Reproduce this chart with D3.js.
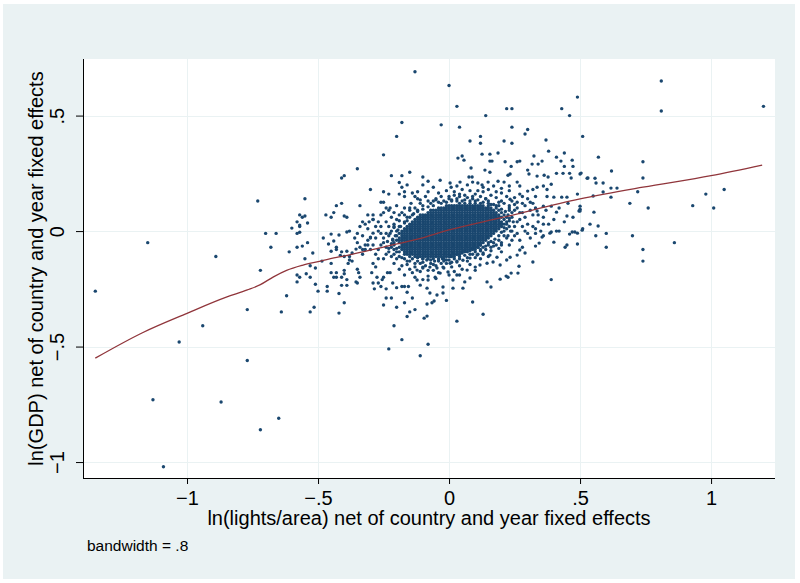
<!DOCTYPE html>
<html>
<head>
<meta charset="utf-8">
<script src="https://cdn.jsdelivr.net/npm/d3@7"></script>
<style>
  html, body { margin: 0; padding: 0; background: #ffffff; }
  svg { display: block; }
  text { font-family: "Liberation Sans", Arial, Helvetica, sans-serif; fill: #000; }
</style>
</head>
<body>
<svg id="chart" width="800" height="583"></svg>
<script>
// ---------------- DATA ----------------
const xTicks = [-1, -0.5, 0, 0.5, 1];
const xTickLabels = ["\u22121", "\u2212.5", "0", ".5", "1"];
const yTicks = [-1, -0.5, 0, 0.5];
const yTickLabels = ["\u22121", "\u2212.5", "0", ".5"];
const xTitle = "ln(lights/area) net of country and year fixed effects";
const yTitle = "ln(GDP) net of country and year fixed effects";
const noteText = "bandwidth = .8";

// isolated observations far from the cloud
const outlierPts = [
  [-1.35,-0.26],[-1.15,-0.05],[-0.89,-0.11],[-1.03,-0.48],[-0.94,-0.41],[-1.13,-0.73],[-0.87,-0.74],[-1.09,-1.02],
  [-0.73,0.13],[-0.72,-0.17],[-0.77,-0.34],[-0.77,-0.56],[-0.65,-0.81],[-0.72,-0.86],[-0.70,-0.01],[-0.66,-0.01],
  [-0.68,-0.07],[-0.64,-0.35],[-0.62,-0.28],
  [-0.13,0.69],[-0.18,0.47],[-0.20,0.41],[-0.25,0.33],[-0.35,0.27],[-0.40,0.24],[-0.41,0.23],[0.00,0.63],[0.03,0.54],
  [0.22,0.53],[0.24,0.53],[0.14,0.50],[-0.03,0.46],[0.04,0.45],[0.43,0.53],[0.49,0.58],[0.46,0.50],[0.51,0.41],
  [0.24,0.45],[0.30,0.44],[0.29,0.42],[0.08,0.39],[0.12,0.41],[0.12,0.38],[0.21,0.39],[0.24,0.38],
  [0.81,0.65],[0.81,0.52],[1.20,0.54],[0.57,0.32],[0.74,0.30],[0.62,0.26],[0.74,0.23],[0.72,0.17],[0.69,0.12],
  [0.76,0.10],[0.93,0.11],[0.98,0.16],[1.01,0.10],[1.05,0.18],[0.86,-0.05],[0.74,-0.08],[0.74,-0.13],[0.70,-0.02],
  [0.60,-0.07],[0.60,-0.01],[0.56,-0.02],
  [-0.11,-0.54],[-0.08,-0.49],[0.03,-0.39],[0.13,-0.36],[0.39,-0.21],[-0.21,-0.41],[-0.18,-0.47],[-0.23,-0.51]
];

// sparse halo around the cloud
const haloPts = [
  [-0.55,0.14],[-0.57,0.07],[-0.55,0.065],[-0.56,0.06],[-0.58,0.04],[-0.54,0.035],[-0.60,0.013],[-0.57,0.02],[-0.57,-0.005],
  [-0.48,-0.03],[-0.45,-0.013],[-0.47,0.07],[-0.45,0.06],[-0.43,0.11],[-0.41,0.12],[-0.44,0.08],[-0.40,0.065],[-0.39,0.06],
  [-0.34,0.11],[-0.30,0.18],[-0.25,0.17],[-0.23,0.16],[-0.22,0.24],[-0.18,0.24],[-0.15,0.255],[-0.16,0.20],
  [-0.19,0.21],[-0.18,0.19],[-0.17,0.17],[-0.19,0.16],[-0.17,0.15],[-0.26,0.125],[-0.25,0.125],[-0.24,0.10],[-0.225,0.10],
  [-0.31,0.07],[-0.29,0.07],[-0.33,0.04],[-0.305,0.04],[-0.29,0.05],[-0.27,0.04],[-0.38,0.0],[-0.39,-0.004],[-0.42,-0.017],
  [-0.12,0.17],[-0.12,0.14],[-0.13,0.10],[-0.145,0.12],
  [-0.57,0.026],[-0.58,-0.01],[-0.58,-0.07],[-0.61,-0.09],[-0.56,-0.065],[-0.54,-0.05],[-0.52,-0.095],[-0.55,-0.12],
  [-0.53,-0.15],[-0.58,-0.19],[-0.57,-0.20],[-0.545,-0.185],[-0.53,-0.20],[-0.58,-0.22],[-0.51,-0.23],[-0.50,-0.26],
  [-0.53,-0.35],[-0.515,-0.33],[-0.51,-0.16],[-0.465,-0.24],[-0.465,-0.26],[-0.45,-0.14],[-0.44,-0.20],[-0.42,-0.355],
  [-0.46,-0.056],[-0.44,-0.043],[-0.43,-0.07],[-0.45,-0.087],[-0.485,-0.13],
  [-0.45,-0.18],[-0.43,-0.18],[-0.43,-0.20],[-0.41,-0.20],[-0.40,-0.17],[-0.40,-0.185],[-0.39,-0.21],[-0.41,-0.235],
  [-0.39,-0.235],[-0.42,-0.27],[-0.40,-0.31],
  [-0.38,-0.125],[-0.385,-0.14],[-0.37,-0.13],[-0.35,-0.165],[-0.345,-0.18],[-0.355,-0.22],[-0.35,-0.225],[-0.34,-0.20],
  [-0.415,-0.105],[-0.40,-0.11],[-0.38,-0.11],[-0.43,-0.08],[-0.41,-0.09],[-0.39,-0.087],[-0.37,-0.095],[-0.355,-0.078],
  [-0.34,-0.07],[-0.32,-0.08],[-0.31,-0.04],[-0.30,-0.026],[-0.29,-0.009],[-0.31,-0.06],[-0.33,-0.10],
  [-0.29,-0.14],[-0.28,-0.155],[-0.295,-0.18],[-0.275,-0.20],[-0.29,-0.225],[-0.285,-0.25],[-0.27,-0.225],[-0.255,-0.21],
  [-0.25,-0.20],[-0.235,-0.18],[-0.225,-0.18],[-0.215,-0.225],[-0.20,-0.245],[-0.18,-0.24],[-0.17,-0.24],[-0.155,-0.24],
  [-0.16,-0.265],[-0.14,-0.29],[-0.13,-0.34],[-0.17,-0.31],[-0.16,-0.37],[-0.15,-0.35],[-0.20,-0.33],[-0.22,-0.29],
  [-0.24,-0.29],[-0.25,-0.32],[-0.24,-0.25],[-0.26,-0.24],
  [0.034,0.316],[0.05,0.325],[0.057,0.307],[0.126,0.333],[0.156,0.303],[0.164,0.303],[0.187,0.338],[0.156,0.333],
  [0.214,0.30],[0.237,0.28],[0.26,0.30],[0.27,0.303],[0.084,0.273],[0.137,0.264],[0.156,0.255],[0.225,0.242],[0.233,0.247],
  [0.324,0.325],[0.355,0.303],[0.34,0.29],[0.317,0.29],[0.37,0.394],[0.38,0.346],[0.44,0.338],[0.41,0.32],
  [0.427,0.303],[0.47,0.307],[0.473,0.28],[0.44,0.28],
  [0.30,0.264],[0.305,0.247],[0.336,0.238],[0.363,0.242],[0.378,0.234],[0.41,0.25],[0.435,0.25],[0.46,0.25],[0.466,0.23],
  [0.50,0.247],[0.53,0.23],
  [-0.10,0.234],[-0.08,0.216],[-0.034,0.22],[0.004,0.208],[0.008,0.19],[0.042,0.212],[0.076,0.234],[0.088,0.234],
  [0.09,0.212],[0.11,0.208],[0.126,0.20],[0.149,0.212],[0.17,0.195],[0.187,0.216],[0.21,0.212],[0.23,0.195],[0.26,0.212],[0.27,0.195],
  [0.30,0.173],[0.32,0.18],[0.336,0.19],[0.36,0.195],[0.374,0.18],[0.39,0.203],[0.374,0.15],[0.40,0.147],[0.39,0.108],
  [0.43,0.147],[0.45,0.147],[0.454,0.12],[0.49,0.16],[0.50,0.108],[0.496,0.087],[0.473,0.06],[0.45,0.065],[0.41,0.082],
  [0.36,0.108],[0.336,0.087],[0.31,0.125],[0.28,0.15],[0.26,0.125],[0.233,0.138],
  [0.51,0.01],[0.48,-0.004],[0.46,-0.013],[0.42,0.0],[0.39,-0.004],[0.36,-0.02],[0.33,0.01],
  [0.504,0.251],[0.527,0.229],[0.557,0.229],[0.561,0.208],[0.588,0.208],[0.618,0.186],[0.641,0.186],[0.588,0.169],
  [0.55,0.152],[0.618,0.147],[0.50,0.095],[0.50,0.087],[0.553,0.082],[0.538,0.03],[0.569,0.022],[0.508,0.004],
  [0.09,-0.307],[-0.01,-0.30],[-0.057,-0.303],[-0.065,-0.31],[-0.084,-0.316],[-0.095,-0.377],[-0.084,-0.368],
  [0.16,-0.242],[0.145,-0.22],[0.195,-0.208],[0.218,-0.195],[0.225,-0.20],[0.237,-0.182],[0.263,-0.182],[0.267,-0.152],
  [0.32,-0.134],[0.29,-0.095],[0.27,-0.082],[0.28,-0.07],[0.33,-0.065],[0.344,-0.052],[0.355,-0.026],[0.40,-0.048],
  [0.443,-0.07],[0.45,-0.06],[0.49,-0.056],[0.47,-0.004],[0.49,-0.009],[0.385,-0.009],
  [-0.023,-0.268],[0.015,-0.247],[0.053,-0.247],[0.06,-0.22],[0.08,-0.203],[0.015,-0.212],[-0.023,-0.242],[-0.046,-0.277],
  [-0.073,-0.268],[-0.084,-0.247],[-0.11,-0.234],[-0.122,-0.212],[-0.08,-0.212],[-0.053,-0.20],[-0.034,-0.182],[-0.004,-0.177],
  [0.03,-0.19],[0.069,-0.169],[0.10,-0.156],[0.118,-0.147],[0.145,-0.139],[0.168,-0.134],[0.195,-0.147],[0.22,-0.125],
  [0.233,-0.113],[0.26,-0.104],[0.183,-0.113],[0.156,-0.104],[0.13,-0.095],[0.107,-0.104],[0.08,-0.117],[0.053,-0.126],
  [0.03,-0.134],[0.004,-0.139],[-0.023,-0.156],[-0.046,-0.16],[-0.073,-0.156],[-0.10,-0.156],[-0.122,-0.169]
];

// medium-density ring outside the solid core
const ringPts = [
  [-0.08,0.13],[-0.05,0.14],[-0.02,0.13],[0.0,0.15],[0.03,0.14],[0.06,0.155],[0.09,0.14],[0.12,0.15],[0.15,0.13],
  [0.18,0.145],[0.21,0.12],[0.23,0.10],[-0.10,0.11],[-0.12,0.09],[0.02,0.17],[0.08,0.175],[0.13,0.17],[-0.04,0.165],
  [0.20,0.165],[0.25,0.115],[0.24,0.08],[0.22,0.06],[-0.14,0.07],[-0.16,0.06],[-0.07,0.12],
  [-0.18,0.08],[-0.20,0.05],[-0.21,0.03],[-0.22,0.0],[-0.23,-0.02],[-0.21,-0.05],[-0.22,-0.07],[-0.20,-0.09],[-0.19,-0.11],
  [-0.24,0.04],[-0.26,-0.01],[-0.25,-0.05],[-0.27,-0.08],[-0.24,-0.10],[-0.28,0.02],[-0.30,-0.03],[-0.26,0.07],[-0.20,0.11],
  [-0.23,0.09],[-0.29,-0.06],[-0.31,0.01],[-0.33,-0.02],[-0.32,-0.06],[-0.35,-0.05],[-0.34,0.02],[-0.27,-0.12],
  [-0.16,-0.13],[-0.13,-0.14],[-0.10,-0.135],[-0.07,-0.14],[-0.04,-0.13],[-0.01,-0.125],[0.02,-0.11],[0.05,-0.095],
  [0.08,-0.085],[0.11,-0.07],[0.14,-0.065],[0.17,-0.05],[-0.15,-0.165],[-0.11,-0.175],[-0.06,-0.17],[-0.02,-0.16],
  [0.04,-0.15],[0.07,-0.13],[0.10,-0.115],[0.13,-0.10],[0.16,-0.085],[0.19,-0.075],[-0.18,-0.15],[-0.21,-0.14],
  [-0.13,-0.20],[-0.08,-0.195],[0.0,-0.19],[0.02,-0.175],
  [0.20,0.03],[0.22,0.01],[0.21,-0.02],[0.19,-0.04],[0.23,0.045],[0.25,0.02],[0.26,-0.01],[0.24,-0.04],[0.27,0.05],
  [0.28,0.08],[0.30,0.03],[0.29,0.0],[0.31,-0.03],[0.23,-0.06],[0.26,0.10],[0.29,0.11],[0.32,0.07],[0.34,0.04],
  [0.33,0.10],[0.36,0.06],[0.35,0.0],[0.38,0.03],[0.40,0.05],[0.37,0.09],[0.42,0.10],[0.44,0.04],[0.41,0.0],
  [0.30,0.14],[0.27,0.16],[0.33,0.15]
];

// second, denser band around the core
const ring2Pts = [
  [-0.04,0.125],[0.15,0.12],[0.17,0.115],[0.19,0.11],
  [-0.11,0.135],[-0.06,0.13],[0.01,0.135],[0.05,0.13],[0.11,0.135],[0.14,0.14],[0.20,0.13],[0.24,0.13],
  [-0.13,0.15],[-0.09,0.15],[-0.03,0.15],[0.02,0.155],[0.04,0.16],[0.07,0.145],[0.10,0.16],[0.16,0.155],[0.22,0.15],[0.25,0.145],
  [-0.14,0.165],[-0.08,0.17],[-0.01,0.175],[0.05,0.18],[0.11,0.175],[0.15,0.18],[0.18,0.17],[0.23,0.175],
  [-0.06,0.19],[0.03,0.195],[0.07,0.20],[0.13,0.19],[0.20,0.185],[-0.10,0.20],
  [-0.17,0.10],[-0.15,0.09],[-0.19,0.07],[-0.17,0.04],[-0.19,0.02],[-0.20,0.0],[-0.21,0.015],[-0.20,-0.02],[-0.215,-0.035],
  [-0.22,-0.055],[-0.21,-0.08],[-0.23,-0.09],[-0.20,-0.12],[-0.22,-0.11],[-0.24,-0.07],[-0.25,-0.03],[-0.23,0.02],
  [-0.24,-0.01],[-0.26,0.02],[-0.27,0.0],[-0.28,-0.03],[-0.26,-0.06],[-0.30,-0.08],[-0.28,-0.10],[-0.25,-0.12],
  [-0.29,0.05],[-0.32,0.03],[-0.35,-0.01],[-0.33,-0.08],[-0.36,-0.03],[-0.22,0.06],[-0.21,0.08],[-0.25,0.08],
  [-0.17,-0.12],[-0.14,-0.12],[-0.12,-0.13],[-0.085,-0.125],[-0.055,-0.13],[-0.025,-0.12],[0.005,-0.11],[0.03,-0.10],
  [0.06,-0.085],[0.09,-0.075],[0.12,-0.06],[0.15,-0.05],[0.16,-0.07],
  [-0.16,-0.145],[-0.13,-0.155],[-0.09,-0.15],[-0.05,-0.15],[-0.03,-0.14],[0.01,-0.135],[0.04,-0.12],[0.09,-0.10],
  [0.12,-0.085],[0.18,-0.06],
  [-0.19,-0.165],[-0.14,-0.18],[-0.10,-0.16],[-0.08,-0.17],[-0.04,-0.18],[0.01,-0.155],[0.05,-0.165],[0.08,-0.145],
  [0.12,-0.12],[0.15,-0.11],[0.20,-0.09],
  [-0.17,-0.19],[-0.10,-0.21],[-0.05,-0.205],[0.04,-0.19],[0.10,-0.17],
  [0.21,0.07],[0.22,0.04],[0.21,0.0],[0.20,-0.06],[0.225,-0.02],[0.24,0.06],[0.23,0.02],[0.25,-0.02],[0.24,0.0],
  [0.26,0.04],[0.27,0.08],[0.25,0.09],[0.28,0.02],[0.27,-0.04],[0.29,0.06],[0.30,-0.01],[0.32,0.02],[0.31,0.09],
  [0.34,0.07],[0.33,-0.01],[0.36,0.03],[0.23,0.11],[0.28,0.12],[0.32,0.12]
];

// observations right at the edge of the solid core
const edgePts = [
  [-0.12,0.085],[-0.10,0.095],[-0.08,0.105],[-0.06,0.11],[-0.03,0.12],[-0.01,0.125],[0.01,0.13],[0.03,0.13],[0.06,0.135],
  [0.08,0.13],[0.10,0.13],[0.13,0.125],[0.16,0.115],[0.18,0.11],[0.20,0.095],[0.215,0.085],[0.225,0.07],[0.23,0.055],
  [0.22,0.03],[0.21,0.015],[0.20,-0.005],[0.19,-0.02],[0.175,-0.035],[0.16,-0.045],[0.15,-0.06],[0.13,-0.07],[0.12,-0.08],
  [0.10,-0.09],[0.08,-0.10],[0.06,-0.105],[0.04,-0.11],[0.02,-0.12],[0.0,-0.125],[-0.02,-0.13],[-0.04,-0.125],[-0.07,-0.125],
  [-0.10,-0.12],[-0.12,-0.115],[-0.15,-0.11],[-0.17,-0.10],[-0.19,-0.09],[-0.20,-0.075],[-0.21,-0.06],[-0.215,-0.04],
  [-0.205,-0.02],[-0.195,0.005],[-0.185,0.02],[-0.17,0.035],[-0.16,0.045],[-0.15,0.06],[-0.135,0.075],
  [-0.11,0.12],[-0.05,0.135],[0.0,0.14],[0.04,0.15],[0.09,0.15],[0.14,0.14],[0.19,0.125],[0.23,0.09],[0.245,0.04],
  [0.235,0.0],[0.22,-0.03],[0.20,-0.05],[0.17,-0.065],[0.14,-0.08],[0.11,-0.10],[0.07,-0.115],[0.03,-0.13],[-0.01,-0.14],
  [-0.06,-0.145],[-0.11,-0.14],[-0.15,-0.13],[-0.18,-0.115],[-0.21,-0.10],[-0.23,-0.075],[-0.235,-0.045],[-0.225,-0.01],
  [-0.21,0.02],[-0.19,0.045],[-0.17,0.07],[-0.15,0.10]
];

// solid core: rows of observations [y, x-values]
const coreRows = [
  [0.12, [0.04,0.06,0.08,0.10,0.12]],
  [0.11, [-0.01,0.01,0.03,0.05,0.07,0.09,0.11,0.13,0.15]],
  [0.10, [-0.04,-0.02,0.0,0.02,0.04,0.06,0.08,0.10,0.12,0.14,0.16,0.18]],
  [0.09, [-0.07,-0.05,-0.03,-0.01,0.01,0.03,0.05,0.07,0.09,0.11,0.13,0.15,0.17,0.19]],
  [0.08, [-0.08,-0.06,-0.04,-0.02,0.0,0.02,0.04,0.06,0.08,0.10,0.12,0.14,0.16,0.18,0.20]],
  [0.07, [-0.11,-0.09,-0.07,-0.05,-0.03,-0.01,0.01,0.03,0.05,0.07,0.09,0.11,0.13,0.15,0.17,0.19]],
  [0.06, [-0.12,-0.10,-0.08,-0.06,-0.04,-0.02,0.0,0.02,0.04,0.06,0.08,0.10,0.12,0.14,0.16,0.18,0.20]],
  [0.05, [-0.13,-0.11,-0.09,-0.07,-0.05,-0.03,-0.01,0.01,0.03,0.05,0.07,0.09,0.11,0.13,0.15,0.17,0.19,0.21]],
  [0.04, [-0.14,-0.12,-0.10,-0.08,-0.06,-0.04,-0.02,0.0,0.02,0.04,0.06,0.08,0.10,0.12,0.14,0.16,0.18,0.20]],
  [0.03, [-0.15,-0.13,-0.11,-0.09,-0.07,-0.05,-0.03,-0.01,0.01,0.03,0.05,0.07,0.09,0.11,0.13,0.15,0.17,0.19,0.21]],
  [0.02, [-0.16,-0.14,-0.12,-0.10,-0.08,-0.06,-0.04,-0.02,0.0,0.02,0.04,0.06,0.08,0.10,0.12,0.14,0.16,0.18,0.20]],
  [0.01, [-0.17,-0.15,-0.13,-0.11,-0.09,-0.07,-0.05,-0.03,-0.01,0.01,0.03,0.05,0.07,0.09,0.11,0.13,0.15,0.17,0.19]],
  [0.00, [-0.18,-0.16,-0.14,-0.12,-0.10,-0.08,-0.06,-0.04,-0.02,0.0,0.02,0.04,0.06,0.08,0.10,0.12,0.14,0.16,0.18]],
  [-0.01, [-0.19,-0.17,-0.15,-0.13,-0.11,-0.09,-0.07,-0.05,-0.03,-0.01,0.01,0.03,0.05,0.07,0.09,0.11,0.13,0.15,0.17]],
  [-0.02, [-0.18,-0.16,-0.14,-0.12,-0.10,-0.08,-0.06,-0.04,-0.02,0.0,0.02,0.04,0.06,0.08,0.10,0.12,0.14,0.16]],
  [-0.03, [-0.19,-0.17,-0.15,-0.13,-0.11,-0.09,-0.07,-0.05,-0.03,-0.01,0.01,0.03,0.05,0.07,0.09,0.11,0.13,0.15]],
  [-0.04, [-0.20,-0.18,-0.16,-0.14,-0.12,-0.10,-0.08,-0.06,-0.04,-0.02,0.0,0.02,0.04,0.06,0.08,0.10,0.12,0.14]],
  [-0.05, [-0.19,-0.17,-0.15,-0.13,-0.11,-0.09,-0.07,-0.05,-0.03,-0.01,0.01,0.03,0.05,0.07,0.09,0.11,0.13]],
  [-0.06, [-0.18,-0.16,-0.14,-0.12,-0.10,-0.08,-0.06,-0.04,-0.02,0.0,0.02,0.04,0.06,0.08,0.10,0.12]],
  [-0.07, [-0.19,-0.17,-0.15,-0.13,-0.11,-0.09,-0.07,-0.05,-0.03,-0.01,0.01,0.03,0.05,0.07,0.09,0.11]],
  [-0.08, [-0.18,-0.16,-0.14,-0.12,-0.10,-0.08,-0.06,-0.04,-0.02,0.0,0.02,0.04,0.06,0.08,0.10]],
  [-0.09, [-0.17,-0.15,-0.13,-0.11,-0.09,-0.07,-0.05,-0.03,-0.01,0.01,0.03,0.05,0.07]],
  [-0.10, [-0.16,-0.14,-0.12,-0.10,-0.08,-0.06,-0.04,-0.02,0.0,0.02,0.04]],
  [-0.11, [-0.13,-0.11,-0.09,-0.07,-0.05,-0.03,-0.01,0.01]],
  [-0.12, [-0.10,-0.08,-0.06,-0.04,-0.02]]
];

// further core observations lying between the rows above
const coreFillRows = [
  [0.11, [0.0,0.02,0.04,0.06,0.08,0.10,0.12]],
  [0.10, [-0.03,-0.01,0.01,0.03,0.05,0.07,0.09,0.11,0.13,0.15]],
  [0.09, [-0.06,-0.04,-0.02,0.0,0.02,0.04,0.06,0.08,0.10,0.12,0.14,0.16]],
  [0.08, [-0.07,-0.05,-0.03,-0.01,0.01,0.03,0.05,0.07,0.09,0.11,0.13,0.15,0.17]],
  [0.07, [-0.10,-0.08,-0.06,-0.04,-0.02,0.0,0.02,0.04,0.06,0.08,0.10,0.12,0.14,0.16,0.18]],
  [0.06, [-0.11,-0.09,-0.07,-0.05,-0.03,-0.01,0.01,0.03,0.05,0.07,0.09,0.11,0.13,0.15,0.17,0.19]],
  [0.05, [-0.12,-0.10,-0.08,-0.06,-0.04,-0.02,0.0,0.02,0.04,0.06,0.08,0.10,0.12,0.14,0.16,0.18]],
  [0.04, [-0.13,-0.11,-0.09,-0.07,-0.05,-0.03,-0.01,0.01,0.03,0.05,0.07,0.09,0.11,0.13,0.15,0.17,0.19]],
  [0.03, [-0.14,-0.12,-0.10,-0.08,-0.06,-0.04,-0.02,0.0,0.02,0.04,0.06,0.08,0.10,0.12,0.14,0.16,0.18,0.20]],
  [0.02, [-0.15,-0.13,-0.11,-0.09,-0.07,-0.05,-0.03,-0.01,0.01,0.03,0.05,0.07,0.09,0.11,0.13,0.15,0.17,0.19]],
  [0.01, [-0.16,-0.14,-0.12,-0.10,-0.08,-0.06,-0.04,-0.02,0.0,0.02,0.04,0.06,0.08,0.10,0.12,0.14,0.16,0.18]],
  [0.00, [-0.17,-0.15,-0.13,-0.11,-0.09,-0.07,-0.05,-0.03,-0.01,0.01,0.03,0.05,0.07,0.09,0.11,0.13,0.15,0.17]],
  [-0.01, [-0.18,-0.16,-0.14,-0.12,-0.10,-0.08,-0.06,-0.04,-0.02,0.0,0.02,0.04,0.06,0.08,0.10,0.12,0.14,0.16]],
  [-0.02, [-0.17,-0.15,-0.13,-0.11,-0.09,-0.07,-0.05,-0.03,-0.01,0.01,0.03,0.05,0.07,0.09,0.11,0.13,0.15]],
  [-0.03, [-0.18,-0.16,-0.14,-0.12,-0.10,-0.08,-0.06,-0.04,-0.02,0.0,0.02,0.04,0.06,0.08,0.10,0.12,0.14]],
  [-0.04, [-0.19,-0.17,-0.15,-0.13,-0.11,-0.09,-0.07,-0.05,-0.03,-0.01,0.01,0.03,0.05,0.07,0.09,0.11,0.13]],
  [-0.05, [-0.18,-0.16,-0.14,-0.12,-0.10,-0.08,-0.06,-0.04,-0.02,0.0,0.02,0.04,0.06,0.08,0.10,0.12]],
  [-0.06, [-0.17,-0.15,-0.13,-0.11,-0.09,-0.07,-0.05,-0.03,-0.01,0.01,0.03,0.05,0.07,0.09,0.11]],
  [-0.07, [-0.18,-0.16,-0.14,-0.12,-0.10,-0.08,-0.06,-0.04,-0.02,0.0,0.02,0.04,0.06,0.08,0.10]],
  [-0.08, [-0.17,-0.15,-0.13,-0.11,-0.09,-0.07,-0.05,-0.03,-0.01,0.01,0.03,0.05,0.07,0.09]],
  [-0.09, [-0.16,-0.14,-0.12,-0.10,-0.08,-0.06,-0.04,-0.02,0.0,0.02,0.04,0.06]],
  [-0.10, [-0.15,-0.13,-0.11,-0.09,-0.07,-0.05,-0.03,-0.01,0.01,0.03]],
  [-0.11, [-0.12,-0.10,-0.08,-0.06,-0.04,-0.02,0.0]]
];

// lowess smoother (bandwidth .8)
const lowessX = [-1.35,-1.17,-1.0,-0.85,-0.77,-0.72,-0.67,-0.62,-0.56,-0.49,-0.42,-0.38,-0.25,-0.12,0.0,0.2,0.5,0.74,1.0,1.195];
const lowessY = [-0.55,-0.44,-0.356,-0.286,-0.255,-0.232,-0.198,-0.17,-0.148,-0.13,-0.112,-0.103,-0.069,-0.035,0.005,0.058,0.139,0.19,0.24,0.286];

// ---------------- DRAW ----------------
const svg = d3.select("#chart");
const W = 800, H = 583;
const plot = { left: 83, right: 775, top: 59, bottom: 478 };

const x = d3.scaleLinear().domain([-1.397, 1.244]).range([plot.left, plot.right]);
const y = d3.scaleLinear().domain([-1.069, 0.745]).range([plot.bottom, plot.top]);

svg.append("rect").attr("x", 0).attr("y", 0).attr("width", W).attr("height", H).attr("fill", "#ffffff");
svg.append("rect").attr("x", 3).attr("y", 4).attr("width", 792).attr("height", 575).attr("fill", "#eaf2f3");
svg.append("rect").attr("x", plot.left).attr("y", plot.top)
  .attr("width", plot.right - plot.left).attr("height", plot.bottom - plot.top).attr("fill", "#ffffff");

// grid
const grid = svg.append("g");
grid.selectAll("line.h").data(yTicks).join("line")
  .attr("x1", plot.left).attr("x2", plot.right)
  .attr("y1", d => Math.round(y(d)) + 0.5).attr("y2", d => Math.round(y(d)) + 0.5)
  .attr("stroke", "#eaf2f3").attr("stroke-width", 1);
grid.selectAll("line.v").data(xTicks).join("line")
  .attr("y1", plot.top).attr("y2", plot.bottom)
  .attr("x1", d => Math.round(x(d)) + 0.5).attr("x2", d => Math.round(x(d)) + 0.5)
  .attr("stroke", "#eaf2f3").attr("stroke-width", 1);

// points
const corePts = [];
coreRows.forEach(([yy, xs]) => xs.forEach(xx => corePts.push([xx, yy])));
coreFillRows.forEach(([yy, xs]) => xs.forEach(xx => corePts.push([xx, yy])));
const allPts = [].concat(outlierPts, haloPts, ringPts, ring2Pts, edgePts, corePts);

svg.append("g").selectAll("circle").data(allPts).join("circle")
  .attr("cx", d => x(d[0])).attr("cy", d => y(d[1]))
  .attr("r", 1.7).attr("fill", "#1a476f");

// lowess line
const lowess = lowessX.map((v, i) => [v, lowessY[i]]);
svg.append("path").datum(lowess)
  .attr("d", d3.line().x(d => x(d[0])).y(d => y(d[1])).curve(d3.curveMonotoneX))
  .attr("fill", "none").attr("stroke", "#90353b").attr("stroke-width", 1.3);

// x axis
const gx = svg.append("g").attr("transform", `translate(0,${plot.bottom})`)
  .call(d3.axisBottom(x).tickValues(xTicks).tickFormat((d, i) => xTickLabels[i]).tickSize(6).tickPadding(7).tickSizeOuter(0));
gx.selectAll(".tick line").attr("stroke", "#000");
gx.selectAll(".tick text").attr("font-size", 20).attr("font-family", "Liberation Sans, Arial, sans-serif").attr("fill", "#000");

// y axis
const gy = svg.append("g").attr("transform", `translate(${plot.left},0)`)
  .call(d3.axisLeft(y).tickValues(yTicks).tickFormat((d, i) => yTickLabels[i]).tickSize(7).tickSizeOuter(0));
gy.selectAll(".tick line").attr("stroke", "#000");
gy.selectAll(".tick text")
  .attr("x", 0).attr("y", 0).attr("dy", 0)
  .attr("text-anchor", "middle")
  .attr("transform", "translate(-19,0) rotate(-90)")
  .attr("font-size", 20).attr("font-family", "Liberation Sans, Arial, sans-serif").attr("fill", "#000");

gx.select(".domain").attr("stroke", "#000").attr("d", `M${plot.left},0.5H${plot.right}`);
gy.select(".domain").attr("stroke", "#000").attr("d", `M0.5,${plot.top}V${plot.bottom}`);

// titles
svg.append("text").attr("x", (plot.left + plot.right) / 2).attr("y", 525)
  .attr("text-anchor", "middle").attr("font-size", 20).text(xTitle);
svg.append("text").attr("transform", `translate(43,${(plot.top + plot.bottom) / 2}) rotate(-90)`)
  .attr("text-anchor", "middle").attr("font-size", 20).text(yTitle);
svg.append("text").attr("x", 87).attr("y", 551).attr("font-size", 15.5).text(noteText);
</script>
</body>
</html>
